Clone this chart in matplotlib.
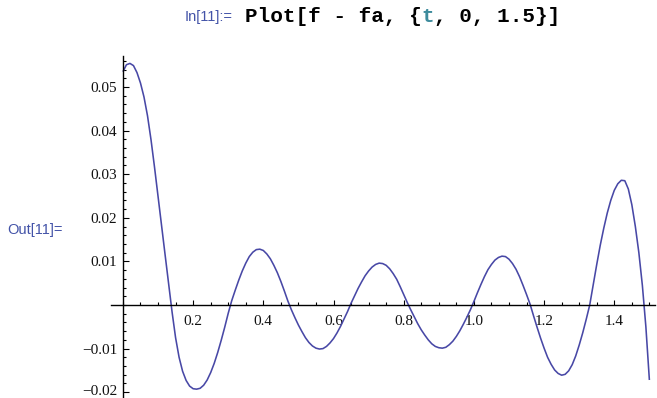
import numpy as np
import matplotlib
matplotlib.use("Agg")
import matplotlib.pyplot as plt
import matplotlib.transforms as mtransforms
from matplotlib.ticker import MultipleLocator

# error curve f - fa sampled on t = 0 .. 1.5, step 0.01
err = [
    0.0535, 0.0551, 0.0554, 0.0549, 0.0533, 0.0509, 0.0477, 0.0434, 0.0379, 0.0316,
    0.0250, 0.0183, 0.0116, 0.0049, -0.0016, -0.0075, -0.0120, -0.0152, -0.0173, -0.0186,
    -0.0192, -0.0193, -0.0191, -0.0184, -0.0172, -0.0155, -0.0134, -0.0109, -0.0081, -0.0051,
    -0.0019, 0.0010, 0.0034, 0.0057, 0.0078, 0.0096, 0.0111, 0.0121, 0.0127, 0.0128,
    0.0125, 0.0117, 0.0106, 0.0091, 0.0074, 0.0054, 0.0032, 0.0009, -0.0011, -0.0029,
    -0.0046, -0.0061, -0.0075, -0.0086, -0.0094, -0.0099, -0.0101, -0.0100, -0.0095, -0.0087,
    -0.0077, -0.0064, -0.0049, -0.0032, -0.0015, 0.0004, 0.0021, 0.0038, 0.0053, 0.0067,
    0.0078, 0.0087, 0.0093, 0.0096, 0.0095, 0.0091, 0.0083, 0.0072, 0.0059, 0.0042,
    0.0024, 0.0006, -0.0011, -0.0027, -0.0043, -0.0057, -0.0069, -0.0080, -0.0089, -0.0095,
    -0.0098, -0.0099, -0.0097, -0.0091, -0.0083, -0.0072, -0.0059, -0.0044, -0.0028, -0.0011,
    0.0008, 0.0028, 0.0047, 0.0065, 0.0081, 0.0093, 0.0103, 0.0109, 0.0112, 0.0111,
    0.0105, 0.0095, 0.0082, 0.0065, 0.0045, 0.0024, 0.0002, -0.0025, -0.0051, -0.0076,
    -0.0099, -0.0120, -0.0136, -0.0149, -0.0157, -0.0161, -0.0159, -0.0151, -0.0137, -0.0117,
    -0.0092, -0.0064, -0.0033, 0.0000, 0.0047, 0.0093, 0.0137, 0.0176, 0.0211, 0.0240,
    0.0263, 0.0278, 0.0286, 0.0285, 0.0266, 0.0230, 0.0180, 0.0120, 0.0045, -0.0050,
    -0.0172,
]
t = np.round(np.arange(len(err)) * 0.01, 2)

xticks = [0.2, 0.4, 0.6, 0.8, 1.0, 1.2, 1.4]
xlabels = ["0.2", "0.4", "0.6", "0.8", "1.0", "1.2", "1.4"]
yticks = [-0.02, -0.01, 0.01, 0.02, 0.03, 0.04, 0.05]
ylabels = ["\u22120.02", "\u22120.01", "0.01", "0.02", "0.03", "0.04", "0.05"]

W, H = 657, 398
fig = plt.figure(figsize=(W / 100, H / 100), dpi=100)
ax = fig.add_axes([111 / W, 1 - 397 / H, 544 / W, 341 / H])

ax.plot(t, err, color="#4848a6", lw=1.15, solid_capstyle="butt")

ax.set_xlim(-0.034, 1.516)
ax.set_ylim(-0.0211, 0.0571)

# Mathematica style axes crossing at the origin
for side in ("top", "right"):
    ax.spines[side].set_visible(False)
ax.spines["left"].set_position(("data", 0))
ax.spines["bottom"].set_position(("data", 0))
for side in ("left", "bottom"):
    ax.spines[side].set_linewidth(1.0)
    ax.spines[side].set_color("black")

ax.set_xticks(xticks)
ax.set_xticklabels(xlabels)
ax.set_yticks(yticks)
ax.set_yticklabels(ylabels)
ax.xaxis.set_minor_locator(MultipleLocator(0.05))
ax.yaxis.set_minor_locator(MultipleLocator(0.002))

ax.tick_params(axis="x", which="major", direction="in", length=3.4, width=0.8, pad=7)
ax.tick_params(axis="x", which="minor", direction="in", length=2.0, width=0.8)
ax.tick_params(axis="y", which="major", direction="in", length=4.2, width=0.8, pad=4)
ax.tick_params(axis="y", which="minor", direction="in", length=2.4, width=0.8)
for lab in ax.get_xticklabels() + ax.get_yticklabels():
    lab.set_fontfamily("Liberation Serif")
    lab.set_fontsize(11)
    lab.set_color("#111111")

# lift the lowest y label a touch so it stays inside the figure
low = ax.get_yticklabels()[0]
low.set_transform(low.get_transform()
                  + mtransforms.ScaledTranslation(0, 2.5 / 100, fig.dpi_scale_trans))

ax.patch.set_visible(False)

# notebook cell labels
blue = "#4353a8"
fig.text(233 / W, 1 - 17 / H, "In[11]:=", ha="right", va="center",
         fontsize=10.5, color=blue, family="Liberation Sans")
fig.text(63 / W, 1 - 230 / H, "Out[11]=", ha="right", va="center",
         fontsize=10.5, color=blue, family="Liberation Sans")

# input line, with the plot variable highlighted
parts = [("Plot[f - fa, {", "black"), ("t", "#3d8b9c"), (", 0, 1.5}]", "black")]
cw = 12.6  # pixel width of one monospace character
x0 = 245
for text, col in parts:
    fig.text(x0 / W, 1 - 16 / H, text, ha="left", va="center",
             fontsize=15.1, fontweight="bold", family="Liberation Mono", color=col)
    x0 += len(text) * cw

fig.savefig("out.png", dpi=100)
